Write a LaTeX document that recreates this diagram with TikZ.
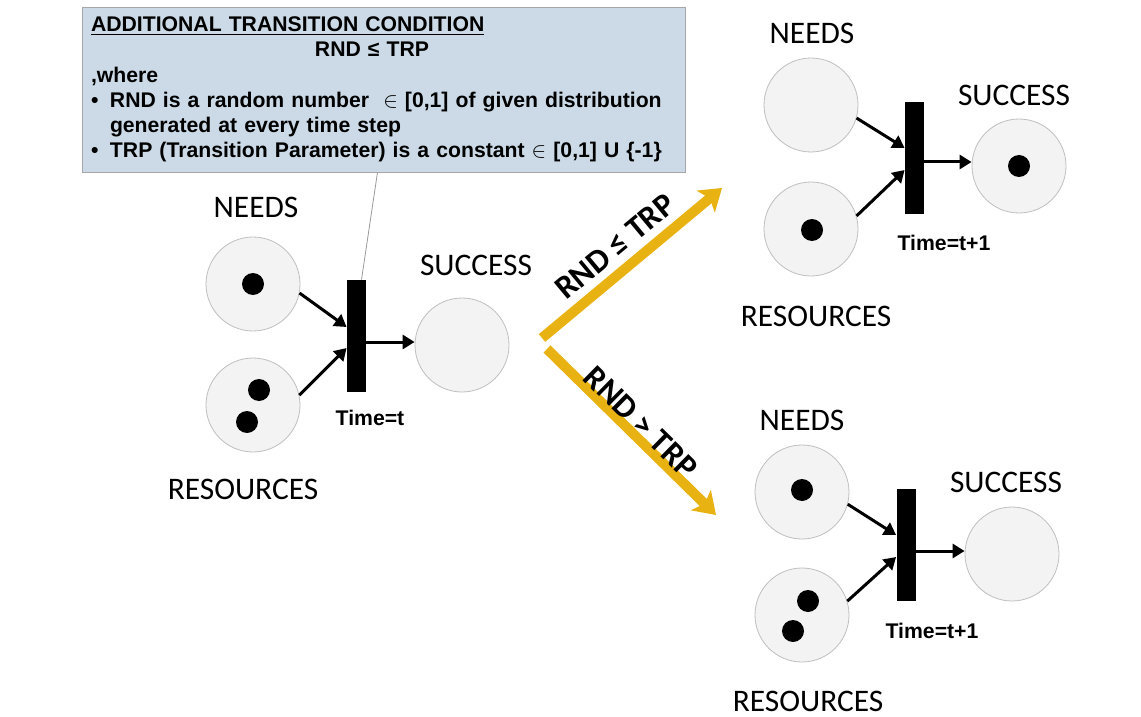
\documentclass[tikz,border=0pt]{standalone}
\usepackage{fontspec}
\setmainfont{Liberation Sans}
\newfontfamily\calibri{Carlito}
\usetikzlibrary{arrows.meta,calc,positioning}
\definecolor{boxblue}{RGB}{203,218,230}
\definecolor{arrowgold}{RGB}{232,178,18}
\definecolor{placegray}{RGB}{243,243,243}

\begin{document}
\begin{tikzpicture}[x=0.5pt,y=-0.5pt,
    place/.style={circle,draw=black!25,fill=placegray,minimum size=47pt,inner sep=0pt},
    token/.style={circle,fill=black,minimum size=11pt,inner sep=0pt},
    trans/.style={rectangle,fill=black,minimum width=9.5pt,minimum height=56pt,inner sep=0pt},
    arc/.style={line width=1.5pt,-{Triangle[length=6pt,width=7pt]}},
    lbl/.style={font=\calibri\fontsize{15.7}{18}\selectfont,inner sep=0pt},
    timelbl/.style={font=\bfseries\fontsize{10.6}{12}\selectfont,inner sep=0pt},
    condbox/.style={draw=black!35,fill=boxblue,text width=292.5pt,minimum width=301.5pt,
      minimum height=82.5pt,inner xsep=4.5pt,inner ysep=4pt,align=left,
      font=\bfseries\fontsize{10.6}{12.6}\selectfont},
    branch/.style={line width=5pt,draw=arrowgold,-{Stealth[length=10.5pt,width=14pt,inset=2.5pt]}},
    branchlbl/.style={font=\calibri\bfseries\fontsize{16.5}{19}\selectfont,sloped,inner sep=0pt}]
  \useasboundingbox (0,0) rectangle (1141,717);

  \node[condbox] (cond) at (383.5,89.5) {\underline{ADDITIONAL TRANSITION CONDITION}\\
    \makebox[281pt]{RND ≤ TRP}\\
    ,where\\
    \makebox[9.5pt][l]{\textbullet}\mbox{RND is a random number \ $\in$ [0,1] of given distribution}\\
    \hspace*{9.5pt}\mbox{generated at every time step}\\
    \makebox[9.5pt][l]{\textbullet}\mbox{TRP (Transition Parameter) is a constant $\in$ [0,1] U \{-1\}}};

  % time t
  \node[place] (needsL) at (253,284) {};
  \node[token] (needsLa) at (253,284) {};
  \node[place] (resL) at (253,405) {};
  \node[token] (resLa) at (259,390) {};
  \node[token] (resLb) at (247,422) {};
  \node[trans] (trL) at (356.5,336) {};
  \node[place] (sucL) at (462,345) {};
  \node[lbl] (needsLl) at (256,207) {NEEDS};
  \node[lbl] (resLl) at (243,489) {RESOURCES};
  \node[lbl] (sucLl) at (476,265) {SUCCESS};
  \node[timelbl] (timeL) at (370,418) {Time=t};
  \draw[arc] (needsL.-11) -- ($(trL.west)+(0,-9)$);
  \draw[arc] (resL.12) -- ($(trL.west)+(0,12)$);
  \draw[arc] ($(trL.east)+(0,6)$) -- ($(sucL.west)+(0,-3)$);
  \draw[black!40,thin] ($(cond.south)+(-6,0)$) -- ($(trL.north)+(5,0)$);

  % time t+1, fired
  \node[place] (needsU) at (811,105) {};
  \node[place] (resU) at (811,229) {};
  \node[token] (resUa) at (812,230) {};
  \node[trans] (trU) at (914.5,158) {};
  \node[place] (sucU) at (1019,166) {};
  \node[token] (sucUa) at (1019,166) {};
  \node[lbl] (needsUl) at (812,33) {NEEDS};
  \node[lbl] (resUl) at (816,316) {RESOURCES};
  \node[lbl] (sucUl) at (1014,95) {SUCCESS};
  \node[timelbl] (timeU) at (944,243) {Time=t+1};
  \draw[arc] (needsU.-16) -- ($(trU.west)+(0,-10)$);
  \draw[arc] (resU.16) -- ($(trU.west)+(0,12)$);
  \draw[arc] ($(trU.east)+(0,4)$) -- ($(sucU.west)+(0,-4)$);

  % time t+1, not fired
  \node[place] (needsD) at (802,492) {};
  \node[token] (needsDa) at (802,490) {};
  \node[place] (resD) at (802,615) {};
  \node[token] (resDa) at (808,601) {};
  \node[token] (resDb) at (793,631) {};
  \node[trans] (trD) at (906,545) {};
  \node[place] (sucD) at (1012,554) {};
  \node[lbl] (needsDl) at (802,420) {NEEDS};
  \node[lbl] (resDl) at (808,701) {RESOURCES};
  \node[lbl] (sucDl) at (1006,482) {SUCCESS};
  \node[timelbl] (timeD) at (932,631) {Time=t+1};
  \draw[arc] (needsD.-15) -- ($(trD.west)+(0,-10)$);
  \draw[arc] (resD.17) -- ($(trD.west)+(0,12)$);
  \draw[arc] ($(trD.east)+(0,6)$) -- ($(sucD.west)+(0,-3)$);

  \coordinate (upS) at (542,338);
  \coordinate (upE) at (722,188);
  \coordinate (dnS) at (547,349);
  \coordinate (dnE) at (716,515);
  \draw[branch] (upS) -- node[branchlbl,pos=0.49,above=4pt] {RND ≤ TRP} (upE);
  \draw[branch] (dnS) -- node[branchlbl,pos=0.5,above=-1pt] {RND > TRP} (dnE);
\end{tikzpicture}
\end{document}
